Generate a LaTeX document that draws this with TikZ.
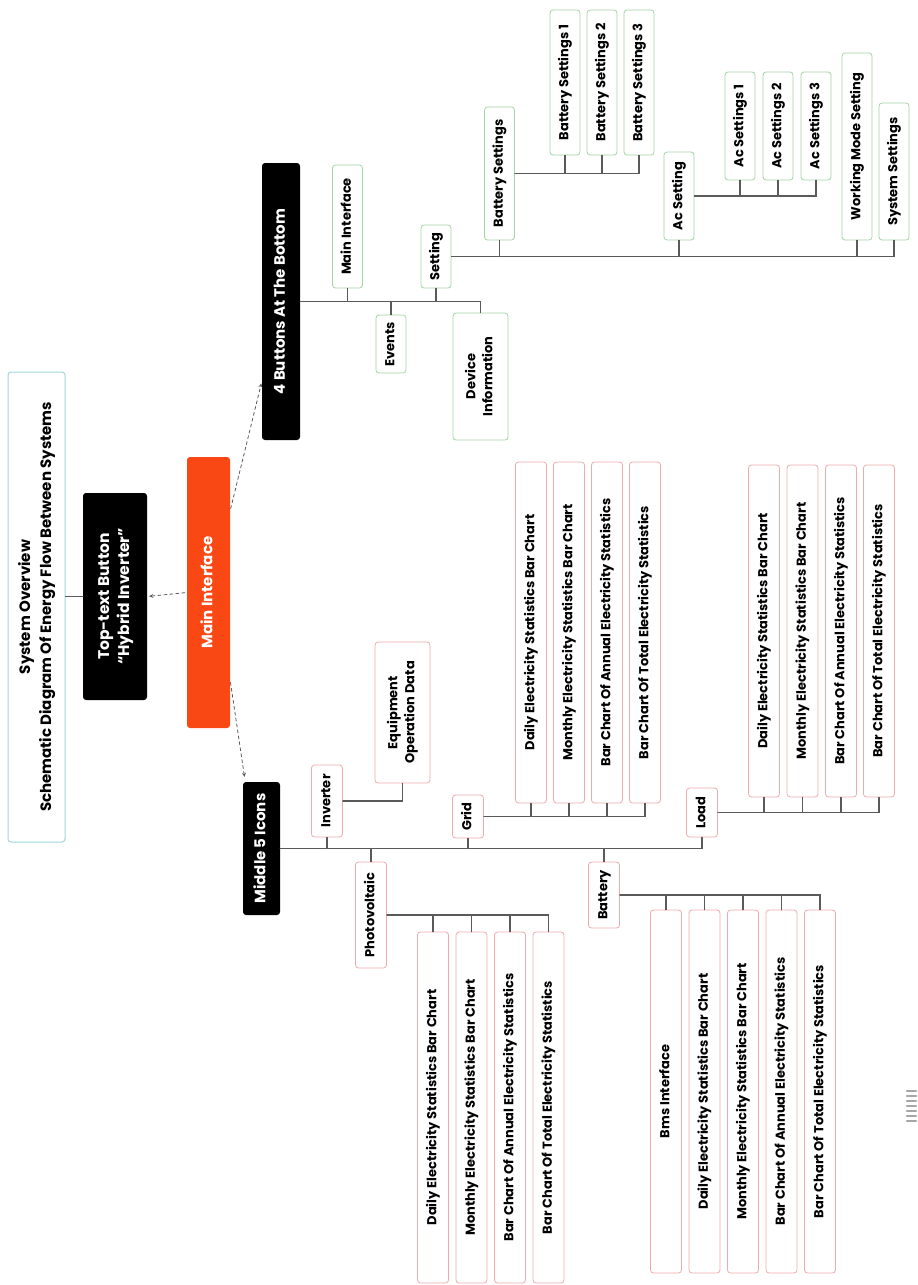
\documentclass[tikz,border=0pt]{standalone}
\usepackage{fontspec}
\setmainfont{Poppins}
\usepackage{graphicx}
\definecolor{orangered}{RGB}{250,72,20}
\definecolor{leafgreen}{RGB}{165,212,165}
\definecolor{leafpink}{RGB}{238,172,172}
\definecolor{sysblue}{RGB}{160,214,220}
\definecolor{linegray}{RGB}{90,90,90}
\newcommand{\vtext}[1]{\rotatebox{90}{\begin{tabular}{@{}c@{}}#1\end{tabular}}}
\newcommand{\dailytxt}{Daily Electricity Statistics Bar Chart}
\newcommand{\monthlytxt}{Monthly Electricity Statistics Bar Chart}
\newcommand{\annualtxt}{Bar Chart Of Annual Electricity Statistics}
\newcommand{\totaltxt}{Bar Chart Of Total Electricity Statistics}
\tikzset{
  base/.style={rectangle, rounded corners=3pt, inner sep=0pt, font=\bfseries\fontsize{13}{17}\selectfont},
  blackbox/.style={base, fill=black, text=white, font=\bfseries\fontsize{15}{19}\selectfont},
  leafg/.style={base, draw=leafgreen, line width=0.8pt, minimum width=30pt},
  leafp/.style={base, draw=leafpink, line width=0.8pt, minimum width=31pt},
  conn/.style={draw=linegray, line width=1.3pt},
  darr/.style={draw=linegray, dashed, line width=0.8pt, ->, shorten >=2pt, shorten <=2pt}
}
\begin{document}
\begin{tikzpicture}[x=1pt, y=-1pt, >=stealth, line cap=round]
\fill[white] (0,0) rectangle (916,1285);
% root part
\node[base, draw=sysblue, line width=1pt, minimum width=57pt, minimum height=470pt, font=\bfseries\fontsize{15}{21}\selectfont] (sys) at (36.5,607) {\vtext{System Overview\\Schematic Diagram Of Energy Flow Between Systems}};
\node[blackbox, minimum width=64pt, minimum height=207pt, font=\bfseries\fontsize{15.5}{20}\selectfont] (top) at (115,596.5) {\vtext{Top-text Button\\“Hybrid Inverter”}};
\node[base, fill=orangered, text=white, minimum width=43pt, minimum height=271pt, font=\bfseries\fontsize{15}{19}\selectfont] (main) at (208.5,592.5) {\vtext{Main Interface}};
\node[blackbox, minimum width=38pt, minimum height=277pt] (btn4) at (281,301.5) {\vtext{4 Buttons At The Bottom}};
\node[blackbox, minimum width=37pt, minimum height=133pt] (mid5) at (261.5,848.5) {\vtext{Middle 5 Icons}};
\draw[conn] (top.west) -- (top.west -| sys.east);
\draw[darr] (main.west) -- (top.east);
\draw[darr] ([yshift=82pt]main.east) -- ([yshift=-80pt]btn4.west);
\draw[darr] ([yshift=-88pt]main.east) -- ([xshift=2pt,yshift=3pt]mid5.north west);
% 4 buttons at the bottom
\node[leafg, minimum height=123pt] (bmain) at (347.5,226.5) {\vtext{Main Interface}};
\node[leafg, minimum height=58pt] (bevents) at (391,344) {\vtext{Events}};
\node[leafg, minimum height=63pt] (bset) at (436,256.5) {\vtext{Setting}};
\node[leafg, minimum width=55pt, minimum height=127pt] (bdev) at (480.5,376.5) {\vtext{Device\\Information}};
\draw[conn] (btn4.east) -| (bdev.north);
\draw[conn] (bmain.south) -- (bmain.south |- btn4.east) (bevents.north) -- (bevents.north |- btn4.east) (bset.south) -- (bset.south |- btn4.east);
% setting
\node[leafg, minimum height=133pt] (sbat) at (499.5,173.5) {\vtext{Battery Settings}};
\node[leafg, minimum height=145pt] (sbat1) at (565,82.5) {\vtext{Battery Settings 1}};
\node[leafg, minimum height=145pt] (sbat2) at (602,82.5) {\vtext{Battery Settings 2}};
\node[leafg, minimum height=145pt] (sbat3) at (639,82.5) {\vtext{Battery Settings 3}};
\node[leafg, minimum height=88pt] (sac) at (679,196) {\vtext{Ac Setting}};
\node[leafg, minimum height=108pt] (ac1) at (740,126) {\vtext{Ac Settings 1}};
\node[leafg, minimum height=108pt] (ac2) at (778,126) {\vtext{Ac Settings 2}};
\node[leafg, minimum height=108pt] (ac3) at (816,126) {\vtext{Ac Settings 3}};
\node[leafg, minimum height=187pt] (swork) at (857,146.5) {\vtext{Working Mode Setting}};
\node[leafg, minimum height=137pt] (ssys) at (894,171.5) {\vtext{System Settings}};
\draw[conn] (bset.east) -| (ssys.south);
\foreach \n in {sbat,sac,swork} \draw[conn] (\n.south) -- (\n.south |- bset.east);
\draw[conn] (sbat.east) -| (sbat3.south);
\foreach \n in {sbat1,sbat2} \draw[conn] (\n.south) -- (\n.south |- sbat.east);
\draw[conn] (sac.east) -| (ac3.south);
\foreach \n in {ac1,ac2} \draw[conn] (\n.south) -- (\n.south |- sac.east);
% middle 5 icons
\node[leafp, minimum height=72pt] (inv) at (327,801) {\vtext{Inverter}};
\node[leafp, minimum width=55pt, minimum height=141pt] (equip) at (402.5,712.5) {\vtext{Equipment\\Operation Data}};
\node[leafp, minimum height=106pt] (pv) at (371,915) {\vtext{Photovoltaic}};
\node[leafp, minimum height=43pt] (grid) at (468,816.5) {\vtext{Grid}};
\node[leafp, minimum height=66pt] (bat) at (604,895) {\vtext{Battery}};
\node[leafp, minimum height=49pt] (load) at (702,812.5) {\vtext{Load}};
\draw[conn] (mid5.east) -| (load.south);
\draw[conn] (inv.south) -- (inv.south |- mid5.east) (pv.north) -- (pv.north |- mid5.east) (grid.south) -- (grid.south |- mid5.east) (bat.north) -- (bat.north |- mid5.east);
\draw[conn] (inv.east) -| (equip.south);
% photovoltaic
\foreach \i/\xx/\txt in {1/433/\dailytxt, 2/471.5/\monthlytxt, 3/510/\annualtxt, 4/548.5/\totaltxt}
  \node[leafp, minimum height=351pt] (pv\i) at (\xx,1107.5) {\vtext{\txt}};
\draw[conn] (pv.east) -| (pv4.north);
\foreach \n in {pv1,pv2,pv3} \draw[conn] (\n.north) -- (\n.north |- pv.east);
% grid
\foreach \i/\xx/\txt in {1/531/\dailytxt, 2/569/\monthlytxt, 3/607/\annualtxt, 4/645/\totaltxt}
  \node[leafp, minimum height=341pt] (grid\i) at (\xx,632.5) {\vtext{\txt}};
\draw[conn] (grid.east) -| (grid4.south);
\foreach \n in {grid1,grid2,grid3} \draw[conn] (\n.south) -- (\n.south |- grid.east);
% battery
\foreach \i/\xx/\txt in {1/666/Bms Interface, 2/704.5/\dailytxt, 3/743/\monthlytxt, 4/781.5/\annualtxt, 5/820/\totaltxt}
  \node[leafp, minimum height=363pt] (bat\i) at (\xx,1091.5) {\vtext{\txt}};
\draw[conn] (bat.east) -| (bat5.north);
\foreach \n in {bat1,bat2,bat3,bat4} \draw[conn] (\n.north) -- (\n.north |- bat.east);
% load
\foreach \i/\xx/\txt in {1/764/\dailytxt, 2/802.5/\monthlytxt, 3/841/\annualtxt, 4/879/\totaltxt}
  \node[leafp, minimum height=332pt] (load\i) at (\xx,631) {\vtext{\txt}};
\draw[conn] (load.east) -| (load4.south);
\foreach \n in {load1,load2,load3} \draw[conn] (\n.south) -- (\n.south |- load.east);
% mark at the right edge
\foreach \yy in {1091,1096,...,1121} \draw[gray!70, line width=2.5pt] (907,\yy) -- (916,\yy);
\end{tikzpicture}
\end{document}
